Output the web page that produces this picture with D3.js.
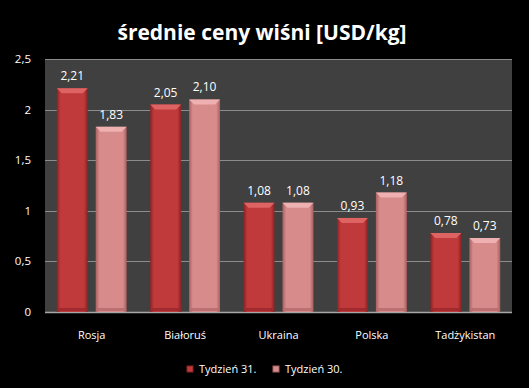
<!DOCTYPE html>
<html>
<head>
<meta charset="utf-8">
<script src="https://cdn.jsdelivr.net/npm/d3@7"></script>
<style>
  body { margin: 0; background: #000; }
  svg { display: block; font-family: "Open Sans", "DejaVu Sans", sans-serif; }
</style>
</head>
<body>
<script>
const categories = ["Rosja", "Białoruś", "Ukraina", "Polska", "Tadżykistan"];
const seriesNames = ["Tydzień 31.", "Tydzień 30."];
const week31 = [2.21, 2.05, 1.08, 0.93, 0.78];
const week30 = [1.83, 2.10, 1.08, 1.18, 0.73];
const yTicks = [0, 0.5, 1, 1.5, 2, 2.5];

const width = 529;
const height = 388;
const margin = { top: 59, right: 17, bottom: 76, left: 45 };

const fmt = v => d3.format(".2f")(v).replace(".", ",");
const tickFmt = v => String(v).replace(".", ",");

const svg = d3.select("body")
    .append("svg")
    .attr("width", width)
    .attr("height", height);

svg.append("rect")
    .attr("width", width)
    .attr("height", height)
    .attr("fill", "#000");

// gradients for the bevelled bars
const defs = svg.append("defs");
const palettes = [
    { id: "g31", edge: "#8a2224", mid: "#c0393b", top: "#de6464" },
    { id: "g30", edge: "#a86060", mid: "#d88b8b", top: "#eeb0b0" }
];
palettes.forEach(p => {
    const g = defs.append("linearGradient")
        .attr("id", p.id)
        .attr("x1", "0").attr("x2", "1").attr("y1", "0").attr("y2", "0");
    g.append("stop").attr("offset", "0").attr("stop-color", p.edge);
    g.append("stop").attr("offset", "0.12").attr("stop-color", p.mid);
    g.append("stop").attr("offset", "0.88").attr("stop-color", p.mid);
    g.append("stop").attr("offset", "1").attr("stop-color", p.edge);
});

const x0 = d3.scaleBand()
    .domain(categories)
    .range([margin.left, width - margin.right])
    .paddingInner(0.252)
    .paddingOuter(0.126);

const x1 = d3.scaleBand()
    .domain(seriesNames)
    .range([0, x0.bandwidth()])
    .paddingInner(0.205);

const y = d3.scaleLinear()
    .domain([0, 2.5])
    .range([height - margin.bottom, margin.top]);

// plot area
svg.append("rect")
    .attr("x", margin.left)
    .attr("y", margin.top)
    .attr("width", width - margin.left - margin.right)
    .attr("height", y(0) - margin.top)
    .attr("fill", "#404040");

svg.append("g")
    .selectAll("line")
    .data(yTicks)
    .join("line")
    .attr("x1", margin.left)
    .attr("x2", width - margin.right)
    .attr("y1", d => Math.round(y(d)) + 0.5)
    .attr("y2", d => Math.round(y(d)) + 0.5)
    .attr("stroke", d => d === 0 ? "#a6a6a6" : "#8c8c8c")
    .attr("stroke-width", d => d === 0 ? 1.5 : 1);

// y axis labels
svg.append("g")
    .selectAll("text")
    .data(yTicks)
    .join("text")
    .attr("x", 31)
    .attr("y", d => y(d) + 4)
    .attr("text-anchor", "end")
    .attr("fill", "#fff")
    .attr("font-size", 11.5)
    .text(tickFmt);

const rows = categories.map((c, i) => ({
    cat: c,
    vals: [
        { s: seriesNames[0], v: week31[i], g: palettes[0] },
        { s: seriesNames[1], v: week30[i], g: palettes[1] }
    ]
}));

const groups = svg.append("g")
    .selectAll("g")
    .data(rows)
    .join("g")
    .attr("transform", d => `translate(${x0(d.cat)},0)`);

const bars = groups.selectAll("g.bar")
    .data(d => d.vals)
    .join("g")
    .attr("class", "bar");

bars.append("rect")
    .attr("x", d => x1(d.s))
    .attr("y", d => y(d.v))
    .attr("width", x1.bandwidth())
    .attr("height", d => y(0) - y(d.v))
    .attr("fill", d => `url(#${d.g.id})`);

// top bevel
bars.append("path")
    .attr("d", d => {
        const xa = x1(d.s), xb = xa + x1.bandwidth(), t = y(d.v), b = 5;
        return `M${xa},${t}L${xb},${t}L${xb - b},${t + b}L${xa + b},${t + b}Z`;
    })
    .attr("fill", d => d.g.top);

// bottom shade
bars.append("rect")
    .attr("x", d => x1(d.s) + 2)
    .attr("y", y(0) - 4)
    .attr("width", x1.bandwidth() - 4)
    .attr("height", 3)
    .attr("fill", d => d.g.edge)
    .attr("opacity", 0.6);

bars.append("text")
    .attr("x", d => x1(d.s) + x1.bandwidth() / 2)
    .attr("y", d => y(d.v) - 8)
    .attr("text-anchor", "middle")
    .attr("fill", "#fff")
    .attr("font-size", 12)
    .text(d => fmt(d.v));

// category labels
svg.append("g")
    .selectAll("text")
    .data(categories)
    .join("text")
    .attr("x", d => x0(d) + x0.bandwidth() / 2)
    .attr("y", 339)
    .attr("text-anchor", "middle")
    .attr("fill", "#fff")
    .attr("font-size", 11)
    .text(d => d);

// title
svg.append("text")
    .attr("x", 262)
    .attr("y", 40)
    .attr("text-anchor", "middle")
    .attr("fill", "#fff")
    .attr("font-size", 21)
    .attr("font-weight", "bold")
    .text("średnie ceny wiśni [USD/kg]");

// legend
const legendX = [187, 273];
const legend = svg.append("g")
    .selectAll("g")
    .data(seriesNames)
    .join("g")
    .attr("transform", (d, i) => `translate(${legendX[i]},366)`);

legend.append("rect")
    .attr("width", 6)
    .attr("height", 6)
    .attr("fill", (d, i) => palettes[i].mid)
    .attr("stroke", (d, i) => palettes[i].edge);

legend.append("text")
    .attr("x", 12)
    .attr("y", 7)
    .attr("fill", "#fff")
    .attr("font-size", 11)
    .text(d => d);
</script>
</body>
</html>
